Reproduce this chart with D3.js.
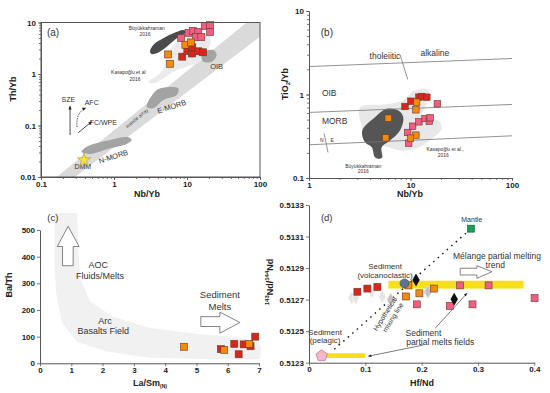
<!DOCTYPE html>
<html>
<head>
<meta charset="utf-8">
<script src="https://cdn.jsdelivr.net/npm/d3@7"></script>
<style>
  body { margin: 0; background: #fff; }
  svg { font-family: "Liberation Sans", Arial, sans-serif; }
</style>
</head>
<body>
<script>
// ---- panel (a): Th/Yb vs Nb/Yb ----
const aPink = [[8.3,5.0],[10.5,6.3],[12,6.9],[14.3,6.6],[13.3,5.2],[15.7,5.2],[17.5,8.5],[20.7,8.9],[20.7,6.5]]
const aRed = [[8.6,2.17],[10.1,2.8],[11.7,2.5],[11.8,3.3],[14.3,2.76],[16.6,2.64]]
const aOrange = [[9.5,3.7],[11.3,4.1],[5.5,2.4],[5.85,1.58]]
const aDMM = [0.388, 0.0214]
const aMantleArray = [[0.164,0.01],[65.7,10],[100,10],[100,5.3],[0.292,0.01]]
const aOIB = [[15.9,2.52],[22.9,2.92],[25.5,2.34],[21.8,1.73],[16.7,1.73],[15.9,2.02]]
const aEMORB = [[2.81,0.232],[3.85,0.489],[5.27,0.552],[7.6,0.527],[7.23,0.391],[4.73,0.313],[3.45,0.216]]
const aNMORB = [[0.361,0.031],[0.423,0.0388],[0.881,0.0523],[1.57,0.059],[1.75,0.0523],[1.49,0.0437],[0.881,0.0361],[0.469,0.028]]
const aKasapoglu = [[2.95,0.708],[3.85,0.914],[4.84,1.29],[5.0,1.87],[5.85,2.92],[8.02,4.57],[13.6,5.72],[20.7,5.3],[19.6,2.92],[15.1,1.73],[9.9,1.39],[6.5,1.11],[4.73,0.826],[3.45,0.659]]
const aBuyuk = [[3.11,2.71],[3.45,3.66],[4.73,4.93],[6.49,6.17],[8.9,7.15],[9.9,6.62],[7.23,4.93],[5.27,3.39],[3.85,2.52],[3.28,2.45]]
const aTicksX = [0.1, 1, 10, 100]
const aTicksY = [0.01, 0.1, 1, 10]

// ---- panel (b): TiO2/Yb vs Nb/Yb ----
const bRed = [[8.83,0.718],[10.1,0.831],[12.1,0.929],[12.9,0.946],[14.5,0.929]]
const bOrange = [[11.5,0.809],[11.3,0.656],[6.04,0.52],[5.7,0.303],[11.3,0.326],[10.0,0.3]]
const bPink = [[18.4,0.774],[10.5,0.417],[12.1,0.471],[13.9,0.516],[15.3,0.479],[15.6,0.526],[9.38,0.351],[9.6,0.261]]
const bKasapoglu = [[3.18,0.705],[5.61,0.759],[8.49,0.847],[10.7,1.10],[15.0,1.14],[14.8,0.847],[12.9,0.561],[13.9,0.466],[18.8,0.489],[20.3,0.388],[16.2,0.295],[13.9,0.257],[11.1,0.224],[8.19,0.213],[6.04,0.234],[4.47,0.257],[3.56,0.308],[3.25,0.446]]
const bBuyuk = [[3.35,0.371],[4.47,0.535],[5.83,0.674],[7.59,0.643],[8.49,0.535],[7.88,0.371],[6.28,0.281],[5.2,0.234],[5.27,0.177],[5.01,0.17],[4.47,0.177],[4.15,0.234],[3.56,0.268]]
const bLines = [[[1,2.16],[100,2.7]], [[1,0.61],[100,0.76]], [[1,0.25],[100,0.32]]]
const bSeparators = [[[7.9,3.0],[9.4,1.51]], [[1.41,0.341],[1.54,0.202]]]
const bTicksX = [1, 10, 100]
const bTicksY = [0.1, 1, 10]

// ---- panel (c): Ba/Th vs La/Sm(N) ----
const cRed = [[5.78,53],[6.21,73],[6.51,71],[6.35,34],[6.73,64],[6.88,100]]
const cOrange = [[4.6,62],[5.89,50],[6.69,73]]
const cArcField = [[0.48,564],[0.46,382],[0.51,269],[0.69,156],[1.17,81],[2.13,44],[3.51,21],[5.11,16],[7.03,16],[7.08,56],[6.97,81],[6.18,100],[5.11,109],[3.51,132],[2.34,175],[1.6,232],[1.28,320],[1.22,445],[1.19,564]]
const cUpArrow = [[0.9,514],[1.25,438],[1.06,438],[1.06,366],[0.72,366],[0.72,438],[0.55,438]]
const cRightArrow = [[5.14,175],[5.75,175],[5.75,192],[6.39,153],[5.75,113],[5.75,138],[5.14,138]]
const cTicksX = [0, 1, 2, 3, 4, 5, 6, 7]
const cTicksY = [0, 100, 200, 300, 400, 500]

// ---- panel (d): 143Nd/144Nd vs Hf/Nd ----
const dRed = [[0.0859,0.51275],[0.1036,0.51277],[0.1214,0.51278]]
const dOrange = [[0.1765,0.51279],[0.1719,0.51272],[0.196,0.51274],[0.2217,0.51277]]
const dPink = [[0.2684,0.51279],[0.3188,0.51279],[0.4005,0.51271],[0.1915,0.51267],[0.25,0.51266],[0.2903,0.51267]]
const dPaleDiamonds = [[0.0759,0.51271],[0.083,0.51271],[0.1114,0.51275],[0.13,0.51272]]
const dGrayDiamonds = [[0.1452,0.5127],[0.211,0.51275]]
const dBlackDiamonds = [[0.19,0.512824],[0.2578,0.512702]]
const dVolcano = [0.1695, 0.512803]
const dPelagic = [0.0225, 0.512344]
const dMantle = [0.2875, 0.51315]
const dMixLine = [[0.045,0.512385],[0.2804,0.513127]]
const dBars = [[[0.0225,0.51233],[0.1,0.51236]], [[0.141,0.51277],[0.381,0.51282]]]
const dArrows = [[[0.203,0.512412],[0.1054,0.512341]], [[0.224,0.512518],[0.2804,0.51274]]]
const dTrendArrow = [[0.2684,0.512856],[0.2981,0.512856],[0.2981,0.512835],[0.3248,0.512877],[0.2981,0.512915],[0.2981,0.512899],[0.2684,0.512899]]
const dTicksX = [0, 0.1, 0.2, 0.3, 0.4]
const dTicksY = [0.5123, 0.5125, 0.5127, 0.5129, 0.5131, 0.5133]

const RED = '#d8261b', ORANGE = '#f28a0c', PINK = '#f25d83'

const svg = d3.select('body').append('svg')
  .attr('width', 550)
  .attr('height', 393)

const defs = svg.append('defs')
defs.append('marker')
  .attr('id', 'head')
  .attr('viewBox', '0 0 10 10')
  .attr('refX', 9).attr('refY', 5)
  .attr('markerWidth', 5).attr('markerHeight', 5)
  .attr('orient', 'auto')
  .append('path').attr('d', 'M0,1 L10,5 L0,9 Z').attr('fill', '#222')

function styleAxis(g) {
  g.attr('font-family', '"Liberation Sans", Arial, sans-serif')
  g.selectAll('.domain').attr('stroke', '#555').attr('stroke-width', 1)
  g.selectAll('.tick line').attr('stroke', '#555').attr('stroke-width', 0.8)
  g.selectAll('.tick text').attr('font-size', 8).attr('font-weight', 'bold').attr('fill', '#222')
}

function drawAxes(g, x, y, xMajor, yMajor, log, fmtY) {
  const y0 = y.range()[0], x0 = x.range()[0]
  if (log) {
    g.append('g').attr('transform', `translate(0,${y0})`)
      .call(d3.axisBottom(x).tickValues(x.ticks()).tickFormat('').tickSize(2).tickSizeOuter(0))
      .call(styleAxis)
    g.append('g').attr('transform', `translate(${x0},0)`)
      .call(d3.axisLeft(y).tickValues(y.ticks()).tickFormat('').tickSize(2).tickSizeOuter(0))
      .call(styleAxis)
  }
  g.append('g').attr('transform', `translate(0,${y0})`)
    .call(d3.axisBottom(x).tickValues(xMajor).tickFormat(d => String(d)).tickSize(3).tickPadding(1).tickSizeOuter(0))
    .call(styleAxis)
  g.append('g').attr('transform', `translate(${x0},0)`)
    .call(d3.axisLeft(y).tickValues(yMajor).tickFormat(fmtY || (d => String(d))).tickSize(3).tickPadding(2).tickSizeOuter(0))
    .call(styleAxis)
}

function area(g, pts, x, y, fill) {
  g.append('path')
    .attr('d', d3.line().x(d => x(d[0])).y(d => y(d[1])).curve(d3.curveCatmullRomClosed.alpha(0.5))(pts))
    .attr('fill', fill)
}

function poly(g, pts, x, y, fill, stroke) {
  g.append('path')
    .attr('d', d3.line().x(d => x(d[0])).y(d => y(d[1]))(pts) + 'Z')
    .attr('fill', fill)
    .attr('stroke', stroke || 'none')
    .attr('stroke-width', 0.8)
}

function squares(g, pts, x, y, fill, size) {
  g.append('g').selectAll('rect')
    .data(pts)
    .enter()
    .append('rect')
    .attr('x', d => x(d[0]) - size / 2)
    .attr('y', d => y(d[1]) - size / 2)
    .attr('width', size)
    .attr('height', size)
    .attr('fill', fill)
    .attr('stroke', '#6a3a2a')
    .attr('stroke-width', 0.6)
}

function label(g, text, px, py, size, opts = {}) {
  const t = g.append('text')
    .attr('x', px).attr('y', py)
    .attr('text-anchor', opts.anchor || 'middle')
    .attr('dominant-baseline', 'central')
    .attr('font-size', size)
    .attr('font-weight', opts.bold ? 'bold' : 'normal')
    .attr('fill', opts.fill || '#333')
    .text(text)
  if (opts.rotate) t.attr('transform', `rotate(${opts.rotate},${px},${py})`)
  return t
}

function pentagon(r) {
  const pts = d3.range(5).map(i => {
    const a = -Math.PI / 2 + i * 2 * Math.PI / 5
    return [r * Math.cos(a), r * Math.sin(a)]
  })
  return 'M' + pts.join('L') + 'Z'
}

// ================= (a) =================
{
  const x = d3.scaleLog().domain([0.1, 100]).range([41, 260])
  const y = d3.scaleLog().domain([0.01, 10]).range([177, 22.5])
  const g = svg.append('g')

  poly(g, aMantleArray, x, y, '#dadada')
  area(g, aKasapoglu, x, y, '#ebebeb')
  area(g, aOIB, x, y, '#a3a3a3')
  area(g, aEMORB, x, y, '#a3a3a3')
  area(g, aNMORB, x, y, '#a3a3a3')
  area(g, aBuyuk, x, y, '#4b4b4b')

  label(g, 'mantle array', x(2.05), y(0.14), 5, { rotate: -40, fill: '#444' })
  label(g, 'E-MORB', x(6.17), y(0.232), 7.5, { rotate: -18 })
  label(g, 'N-MORB', x(0.98), y(0.0248), 7.5, { rotate: -18 })
  label(g, 'OIB', x(25.5), y(1.39), 7.5)
  label(g, 'DMM', x(0.373), y(0.0158), 7)
  label(g, 'Büyükkahraman', x(2.81), y(7.8), 5)
  label(g, '2016', x(2.66), y(5.9), 5)
  label(g, 'Kasapoğlu et al', x(1.57), y(1.11), 5)
  label(g, '2016', x(1.94), y(0.8), 5)
  label(g, 'SZE', x(0.237), y(0.327), 7)
  label(g, 'AFC', x(0.495), y(0.277), 7)
  label(g, 'FC/WPE', x(0.713), y(0.113), 7)
  label(g, '(a)', x(0.146), y(6.5), 10)

  g.append('line')
    .attr('x1', x(0.25)).attr('y1', y(0.065)).attr('x2', x(0.25)).attr('y2', y(0.239))
    .attr('stroke', '#222').attr('stroke-width', 0.8).attr('marker-end', 'url(#head)')
  g.append('line')
    .attr('x1', x(0.324)).attr('y1', y(0.0725)).attr('x2', x(0.495)).attr('y2', y(0.119))
    .attr('stroke', '#222').attr('stroke-width', 0.8).attr('marker-end', 'url(#head)')
  g.append('path')
    .attr('d', `M${x(0.311)},${y(0.0935)} Q${x(0.301)},${y(0.183)} ${x(0.413)},${y(0.219)}`)
    .attr('fill', 'none').attr('stroke', '#222').attr('stroke-width', 0.8)
    .attr('stroke-dasharray', '1.5,1').attr('marker-end', 'url(#head)')

  squares(g, aPink, x, y, PINK, 7)
  squares(g, aRed, x, y, RED, 7)
  squares(g, aOrange, x, y, ORANGE, 7)

  g.append('path')
    .attr('d', d3.symbol(d3.symbolStar).size(55)())
    .attr('transform', `translate(${x(aDMM[0])},${y(aDMM[1])})`)
    .attr('fill', '#f7e43c').attr('stroke', '#b59a10').attr('stroke-width', 0.6)

  g.append('rect')
    .attr('x', 41).attr('y', 22.5).attr('width', 219).attr('height', 154.5)
    .attr('fill', 'none').attr('stroke', '#555').attr('stroke-width', 1)
  drawAxes(g, x, y, aTicksX, aTicksY, true)

  label(g, 'Th/Yb', 13, 89, 9, { bold: true, rotate: -90, fill: '#222' })
  label(g, 'Nb/Yb', 147, 194, 9, { bold: true, fill: '#222' })
}

// ================= (b) =================
{
  const x = d3.scaleLog().domain([1, 100]).range([309, 512])
  const y = d3.scaleLog().domain([0.1, 10]).range([178, 11])
  const g = svg.append('g')

  area(g, bKasapoglu, x, y, '#e8e8e8')
  area(g, bBuyuk, x, y, '#555555')

  bLines.concat(bSeparators).forEach(l => {
    g.append('line')
      .attr('x1', x(l[0][0])).attr('y1', y(l[0][1]))
      .attr('x2', x(l[1][0])).attr('y2', y(l[1][1]))
      .attr('stroke', '#777').attr('stroke-width', 0.8)
  })

  label(g, '(b)', x(1.5), y(5.5), 10)
  label(g, 'tholeiitic', x(5.6), y(2.93), 8.5)
  label(g, 'alkaline', x(17.4), y(3.1), 8.5)
  label(g, 'OIB', x(1.34), y(1.03), 8.5, { anchor: 'start' })
  label(g, 'MORB', x(1.34), y(0.475), 8.5, { anchor: 'start' })
  label(g, 'N', x(1.34), y(0.289), 5)
  label(g, 'E', x(1.69), y(0.289), 5)
  label(g, 'Büyükkahraman', x(3.43), y(0.141), 5)
  label(g, '2016', x(3.43), y(0.12), 5)
  label(g, 'Kasapoğlu et al.,', x(21.9), y(0.224), 5)
  label(g, '2016', x(21.0), y(0.186), 5)

  squares(g, bPink, x, y, PINK, 6.5)
  squares(g, bRed, x, y, RED, 6.5)
  squares(g, bOrange, x, y, ORANGE, 6.5)

  drawAxes(g, x, y, bTicksX, bTicksY, true)

  const t = label(g, '', 285, 84, 9, { bold: true, rotate: -90, fill: '#222' })
  t.append('tspan').text('TiO')
  t.append('tspan').attr('font-size', 6).attr('baseline-shift', 'sub').text('2')
  t.append('tspan').text('/Yb')
  label(g, 'Nb/Yb', 410, 194, 9, { bold: true, fill: '#222' })
}

// ================= (c) =================
{
  const x = d3.scaleLinear().domain([0, 7]).range([40, 259])
  const y = d3.scaleLinear().domain([0, 500]).range([363.3, 230])
  const g = svg.append('g')

  poly(g, cArcField, x, y, '#f1f1f1')
  poly(g, cUpArrow, x, y, '#fff', '#666')
  poly(g, cRightArrow, x, y, '#fff', '#666')

  label(g, '(c)', x(0.41), y(547), 9.5)
  label(g, 'AOC', x(1.86), y(370), 9)
  label(g, 'Fluids/Melts', x(1.92), y(329), 9)
  label(g, 'Arc', x(2.08), y(159), 9)
  label(g, 'Basalts Field', x(2.02), y(121), 9)
  label(g, 'Sediment', x(5.75), y(257), 9.5)
  label(g, 'Melts', x(5.75), y(213), 9.5)

  squares(g, cRed, x, y, RED, 7)
  squares(g, cOrange, x, y, ORANGE, 7)

  drawAxes(g, x, y, cTicksX, cTicksY, false)

  label(g, 'Ba/Th', 9, 285, 9, { bold: true, rotate: -90, fill: '#222' })
  const t = label(g, 'La/Sm', 150, 383, 9, { bold: true, fill: '#222' })
  t.append('tspan').attr('font-size', 5).attr('baseline-shift', 'sub').text('(N)')
}

// ================= (d) =================
{
  const x = d3.scaleLinear().domain([0, 0.4]).range([309, 534.3])
  const y = d3.scaleLinear().domain([0.5123, 0.5133]).range([362.7, 205])
  const g = svg.append('g')

  dBars.forEach(b => {
    g.append('rect')
      .attr('x', x(b[0][0])).attr('y', y(b[1][1]))
      .attr('width', x(b[1][0]) - x(b[0][0]))
      .attr('height', y(b[0][1]) - y(b[1][1]))
      .attr('fill', '#f7df1e')
  })

  g.append('line')
    .attr('x1', x(dMixLine[0][0])).attr('y1', y(dMixLine[0][1]))
    .attr('x2', x(dMixLine[1][0])).attr('y2', y(dMixLine[1][1]))
    .attr('stroke', '#111').attr('stroke-width', 1.4).attr('stroke-dasharray', '1.5,4.5')

  dArrows.forEach(a => {
    g.append('line')
      .attr('x1', x(a[0][0])).attr('y1', y(a[0][1]))
      .attr('x2', x(a[1][0])).attr('y2', y(a[1][1]))
      .attr('stroke', '#444').attr('stroke-width', 0.7).attr('marker-end', 'url(#head)')
  })

  poly(g, dTrendArrow, x, y, '#fff', '#666')

  const diamond = d3.symbol(d3.symbolDiamond).size(48)()
  g.append('g').selectAll('path').data(dPaleDiamonds).enter().append('path')
    .attr('d', diamond).attr('transform', d => `translate(${x(d[0])},${y(d[1])})`)
    .attr('fill', '#e4e4e4').attr('stroke', '#f8f8f8').attr('stroke-width', 0.8)
  g.append('g').selectAll('path').data(dGrayDiamonds).enter().append('path')
    .attr('d', diamond).attr('transform', d => `translate(${x(d[0])},${y(d[1])})`)
    .attr('fill', '#c2c2c2').attr('stroke', '#e0e0e0').attr('stroke-width', 0.8)

  squares(g, dRed, x, y, RED, 7)
  squares(g, dOrange, x, y, ORANGE, 7)
  squares(g, dPink, x, y, PINK, 7)

  g.append('g').selectAll('path').data(dBlackDiamonds).enter().append('path')
    .attr('d', diamond).attr('transform', d => `translate(${x(d[0])},${y(d[1])})`)
    .attr('fill', '#111')

  g.append('circle')
    .attr('cx', x(dVolcano[0])).attr('cy', y(dVolcano[1])).attr('r', 4.5)
    .attr('fill', '#5d7396').attr('stroke', '#3a4a66').attr('stroke-width', 0.6)

  g.append('path')
    .attr('d', pentagon(6))
    .attr('transform', `translate(${x(dPelagic[0])},${y(dPelagic[1])})`)
    .attr('fill', '#f6b9c0').attr('stroke', '#9a6a70').attr('stroke-width', 0.6)

  g.append('rect')
    .attr('x', x(dMantle[0]) - 3.5).attr('y', y(dMantle[1]) - 3.5)
    .attr('width', 7).attr('height', 7)
    .attr('fill', '#17a05a').attr('stroke', '#0c5a32').attr('stroke-width', 0.6)

  label(g, '(d)', x(0.0315), y(0.513219), 9.5)
  label(g, 'Mantle', x(0.289), y(0.513205), 7)
  label(g, 'Sediment', x(0.135), y(0.512909), 8)
  label(g, '(volcanoclastic)', x(0.135), y(0.512856), 8)
  label(g, 'Mélange partial melting', x(0.3337), y(0.512977), 8.5)
  label(g, 'trend', x(0.3307), y(0.51292), 8.5)
  label(g, 'Sediment', x(0.0284), y(0.51249), 8)
  label(g, '(pelagic)', x(0.0284), y(0.51244), 8)
  label(g, 'Hypothetical', x(0.135), y(0.51261), 7, { rotate: -58 })
  label(g, 'mixing line', x(0.149), y(0.512588), 7, { rotate: -58 })
  label(g, 'Sediment', x(0.2032), y(0.51249), 8.5)
  label(g, 'partial melts fields', x(0.2329), y(0.512433), 8.5)

  drawAxes(g, x, y, dTicksX, dTicksY, false, d3.format('.4f'))

  const t = label(g, '', 270, 282, 9, { bold: true, rotate: -90, fill: '#222' })
  t.append('tspan').attr('font-size', 6).attr('baseline-shift', 'super').text('143')
  t.append('tspan').text('Nd/')
  t.append('tspan').attr('font-size', 6).attr('baseline-shift', 'super').text('144')
  t.append('tspan').text('Nd')
  label(g, 'Hf/Nd', 422, 383, 9, { bold: true, fill: '#222' })
}
</script>
</body>
</html>
